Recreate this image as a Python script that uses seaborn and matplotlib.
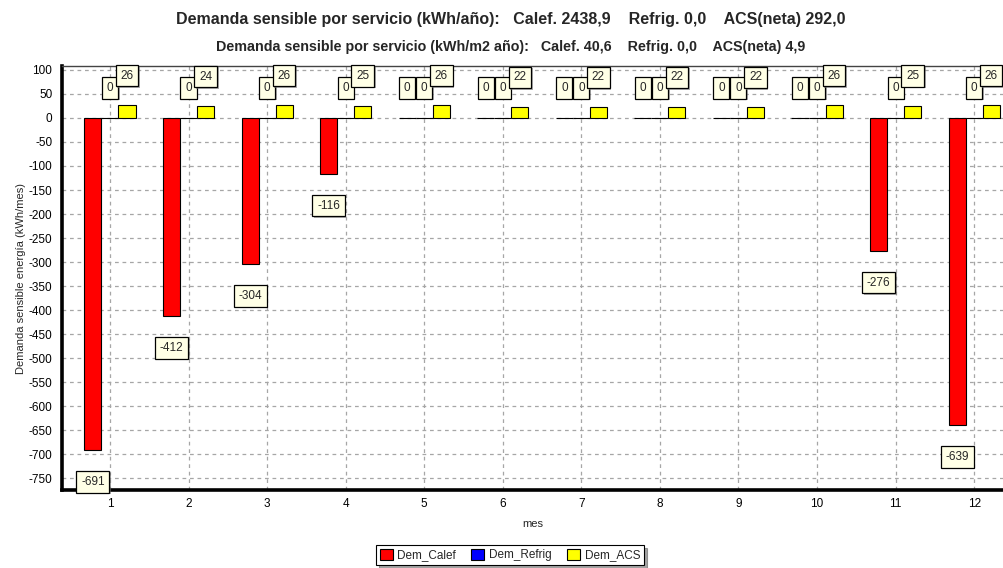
import matplotlib
matplotlib.use("Agg")
import matplotlib.pyplot as plt
import matplotlib.patheffects as pe
from matplotlib.ticker import MultipleLocator, FuncFormatter
import pandas as pd
import seaborn as sns

# Monthly sensible energy demand (kWh/mes)
meses = [1, 2, 3, 4, 5, 6, 7, 8, 9, 10, 11, 12]
dem_calef = [-691, -412, -304, -116, 0, 0, 0, 0, 0, 0, -276, -639]
dem_refrig = [0, 0, 0, 0, 0, 0, 0, 0, 0, 0, 0, 0]
dem_acs = [26, 24, 26, 25, 26, 22, 22, 22, 22, 26, 25, 26]

series = ["Dem_Calef", "Dem_Refrig", "Dem_ACS"]
colores = ["#FF0000", "#0000FF", "#FFFF00"]

titulo_1 = ("Demanda sensible por servicio (kWh/año):   Calef. 2438,9    "
            "Refrig. 0,0    ACS(neta) 292,0")
titulo_2 = ("Demanda sensible por servicio (kWh/m2 año):   Calef. 40,6    "
            "Refrig. 0,0    ACS(neta) 4,9")

df = pd.DataFrame({
    "mes": meses * 3,
    "valor": dem_calef + dem_refrig + dem_acs,
    "serie": [s for s in series for _ in meses],
})

sns.set_theme(style="white")
plt.rcParams["font.family"] = ["Liberation Sans", "DejaVu Sans"]
plt.rcParams["axes.unicode_minus"] = False

fig = plt.figure(figsize=(10.04, 5.68), dpi=100)
ax = fig.add_axes([0.0618, 0.1373, 0.9382, 0.7465])

sns.barplot(data=df, x="mes", y="valor", hue="serie", hue_order=series,
            palette=colores, native_scale=True, width=0.65, dodge=True,
            edgecolor="black", linewidth=0.8, saturation=1, ax=ax,
            legend=True, errorbar=None, zorder=3)

ax.set_xlim(0.39, 12.38)
ax.set_ylim(-774, 108)
ax.xaxis.set_major_locator(MultipleLocator(1))
ax.xaxis.set_minor_locator(MultipleLocator(0.5))
ax.yaxis.set_major_locator(MultipleLocator(50))
ax.yaxis.set_minor_locator(MultipleLocator(10))
ax.xaxis.set_major_formatter(FuncFormatter(lambda v, p: f"{v:.0f}"))
ax.yaxis.set_major_formatter(FuncFormatter(lambda v, p: f"{v:.0f}"))

ax.grid(True, which="major", axis="both", linestyle=(0, (3, 3)),
        color="#a6a6a6", linewidth=0.9, zorder=0)
ax.set_axisbelow(True)

for side in ("left", "bottom"):
    ax.spines[side].set_linewidth(2.6)
    ax.spines[side].set_color("black")
ax.spines["top"].set_linewidth(1.0)
ax.spines["top"].set_color("#444444")
ax.spines["right"].set_visible(False)

ax.tick_params(axis="both", which="major", labelsize=8.5, colors="black",
               length=4, width=0.8, direction="in", pad=6)
ax.tick_params(axis="both", which="minor", length=2, width=0.6,
               direction="in", colors="black")
ax.tick_params(axis="y", which="major", direction="out", length=3, pad=4)
ax.tick_params(axis="y", which="minor", direction="out", length=2)

ax.set_xlabel("mes", fontsize=8, labelpad=6)
ax.set_ylabel("Demanda sensible energía (kWh/mes)", fontsize=8, labelpad=1.5)

# Value marks in boxes above/below each bar
caja = dict(boxstyle="square,pad=0.4", fc="#FFFFE6", ec="black", lw=0.9)
sombra = [pe.SimplePatchShadow(offset=(1.2, -1.2), shadow_rgbFace="#777777",
                               alpha=0.6), pe.Normal()]
for cont in ax.containers:
    for rect, val in zip(cont.patches, cont.datavalues):
        xc = rect.get_x() + rect.get_width() / 2
        off = 21.5 if val >= 0 else -23.0
        t = ax.annotate(f"{val:.0f}", xy=(xc, val), xytext=(0, off),
                        textcoords="offset points", ha="center", va="center",
                        fontsize=8.5, bbox=caja, zorder=5,
                        annotation_clip=False)
        t.get_bbox_patch().set_path_effects(sombra)

leg = ax.legend(loc="center", bbox_to_anchor=(0.508, 0.023),
                bbox_transform=fig.transFigure, ncol=3, fontsize=8.5,
                frameon=True, fancybox=False, shadow=True,
                handlelength=1.1, handleheight=1.1, handletextpad=0.4,
                columnspacing=1.3, borderpad=0.3, edgecolor="black")
leg.get_frame().set_linewidth(0.8)

fig.text(0.509, 0.965, titulo_1, ha="center", va="center", fontsize=11.5,
         fontweight="bold")
fig.text(0.509, 0.917, titulo_2, ha="center", va="center", fontsize=10.3,
         fontweight="bold")

fig.savefig("out.png", dpi=100, facecolor="white")
